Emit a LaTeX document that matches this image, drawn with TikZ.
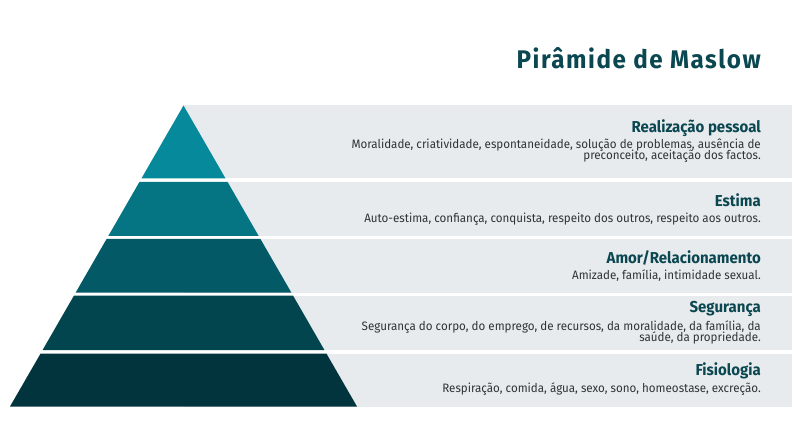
\documentclass[tikz,border=0pt]{standalone}
\usepackage{fontspec}
\setmainfont[FakeStretch=0.95]{Fira Sans}
\definecolor{lvA}{HTML}{06899B}
\definecolor{lvB}{HTML}{057483}
\definecolor{lvC}{HTML}{045966}
\definecolor{lvD}{HTML}{03454F}
\definecolor{lvE}{HTML}{02343D}
\definecolor{bandgray}{HTML}{E8EBEE}
\definecolor{headcol}{HTML}{0A4750}
\definecolor{desccol}{HTML}{2E3436}
\tikzset{
  lvtitle/.style={anchor=base east, inner sep=0pt, text=headcol, font=\bfseries\fontsize{15.8}{19}\selectfont},
  lvdesc/.style={anchor=base east, inner sep=0pt, text=desccol, font=\fontsize{12.2}{11.5}\selectfont},
  band/.style={fill=bandgray, draw=none}
}
\begin{document}
\begin{tikzpicture}[x=1pt,y=-1pt]
\useasboundingbox (0,0) rectangle (792,446);
% gray bands
\fill[band] (183.5,105.5) rectangle (792,178.5);
\fill[band] (183.5,182) rectangle (792,236);
\fill[band] (183.5,239) rectangle (792,292.5);
\fill[band] (183.5,295.5) rectangle (792,350);
\fill[band] (183.5,353.5) rectangle (792,406.5);
% pyramid
\fill[lvA] (183.5,105.5) -- (225.6,178.5) -- (141.4,178.5) -- cycle;
\fill[lvB] (139.4,182) -- (227.6,182) -- (258.7,236) -- (108.3,236) -- cycle;
\fill[lvC] (106.55,239) -- (260.45,239) -- (291.3,292.5) -- (75.7,292.5) -- cycle;
\fill[lvD] (74.0,295.5) -- (293.0,295.5) -- (324.4,350) -- (42.6,350) -- cycle;
\fill[lvE] (40.6,353.5) -- (326.4,353.5) -- (357,406.5) -- (10,406.5) -- cycle;
% title
\node[anchor=base east, inner sep=0pt, text=headcol, font=\bfseries\fontsize{25.5}{30}\selectfont\addfontfeatures{LetterSpace=6}] (title) at (761,69) {Pirâmide de Maslow};
% rows
\node[lvtitle] (t1) at (761,132.3) {Realização pessoal};
\node[lvdesc] (d1a) at (761,149) {Moralidade, criatividade, espontaneidade, solução de problemas, ausência de};
\node[lvdesc] (d1b) at (761,160) {preconceito, aceitação dos factos.};
\node[lvtitle] (t2) at (761,206.5) {Estima};
\node[lvdesc] (d2) at (761,223) {Auto-estima, confiança, conquista, respeito dos outros, respeito aos outros.};
\node[lvtitle] (t3) at (761,263.3) {Amor/Relacionamento};
\node[lvdesc] (d3) at (761,279.5) {Amizade, família, intimidade sexual.};
\node[lvtitle] (t4) at (761,312.3) {Segurança};
\node[lvdesc] (d4a) at (761,330) {Segurança do corpo, do emprego, de recursos, da moralidade, da família, da};
\node[lvdesc] (d4b) at (761,341.5) {saúde, da propriedade.};
\node[lvtitle] (t5) at (761,375) {Fisiologia};
\node[lvdesc] (d5) at (761,392.5) {Respiração, comida, água, sexo, sono, homeostase, excreção.};
\end{tikzpicture}
\end{document}
